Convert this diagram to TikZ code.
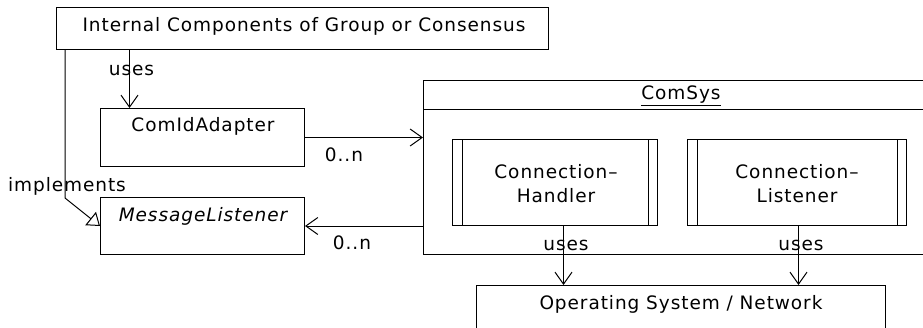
\documentclass[tikz,border=0pt]{standalone}
\usepackage{fontspec}
\setmainfont[LetterSpace=5]{DejaVu Sans}
\usetikzlibrary{arrows.meta}
\begin{document}
\begin{tikzpicture}[x=1bp,y=-1bp,line width=1bp,
  font=\fontsize{18.5bp}{24bp}\selectfont,
  box/.style={draw,anchor=north west,inner sep=0pt,fill=white},
  txt/.style={inner sep=0pt,align=center},
  usesarrow/.style={-{Straight Barb[length=12bp,width=17bp,line width=1bp]}},
  implarrow/.style={-{Triangle[open,length=12bp,width=17bp,line width=1bp,fill=white]}}]
\useasboundingbox (0,0) rectangle (923,327);
\clip (0,0) rectangle (923,327);
% boxes
\node[box,minimum width=492bp,minimum height=42.5bp] (top) at (56,6.5) {};
\node[txt] (topt) at (304,26) {Internal Components of Group or Consensus};
\node[box,minimum width=204bp,minimum height=58bp] (cia) at (100,108) {};
\node[txt] (ciat) at (203,126) {ComIdAdapter};
\node[box,minimum width=204bp,minimum height=57bp] (ml) at (100,197) {};
\node[txt] (mlt) at (203,216) {\itshape MessageListener};
\node[box,minimum width=516bp,minimum height=174bp] (cs) at (423,80) {};
\draw ([yshift=-29bp]cs.north west) -- ([yshift=-29bp]cs.north east);
\node[txt] (cst) at (681,96) {\underline{ComSys}};
\node[box,minimum width=205bp,minimum height=86bp] (ch) at (452,139) {};
\draw ([xshift=10bp]ch.north west) -- ([xshift=10bp]ch.south west);
\draw ([xshift=-10bp]ch.north east) -- ([xshift=-10bp]ch.south east);
\node[txt] (cht) at (556,184) {Connection–\\Handler};
\node[box,minimum width=219bp,minimum height=86bp] (cl) at (687,139) {};
\draw ([xshift=10bp]cl.north west) -- ([xshift=10bp]cl.south west);
\draw ([xshift=-10bp]cl.north east) -- ([xshift=-10bp]cl.south east);
\node[txt] (clt) at (797,184) {Connection–\\Listener};
\node[box,minimum width=409bp,minimum height=60bp] (os) at (476,285) {};
\node[txt] (ost) at (681,304) {Operating System / Network};
% connectors
\path ([xshift=-73bp]cia.north) coordinate (u1);
\draw[usesarrow] (top.south -| u1) -- (u1);
\node[txt] at (131.5,70) {uses};
\draw[implarrow] ([xshift=9bp]top.south west) -- ++(0,148) -- (ml.west);
\node[txt] at (67,186) {implements};
\draw[usesarrow] (cia.east) -- (cs.west |- cia.east);
\node[txt] at (344,155) {0..n};
\draw[usesarrow] (cs.west |- ml.east) -- (ml.east);
\node[txt] at (352,243) {0..n};
\path ([xshift=8.5bp]ch.south) coordinate (u2);
\draw[usesarrow] (u2) -- (os.north -| u2);
\node[txt] at (566,245) {uses};
\path ([xshift=1.5bp]cl.south) coordinate (u3);
\draw[usesarrow] (u3) -- (os.north -| u3);
\node[txt] at (801,245) {uses};
\end{tikzpicture}
\end{document}
